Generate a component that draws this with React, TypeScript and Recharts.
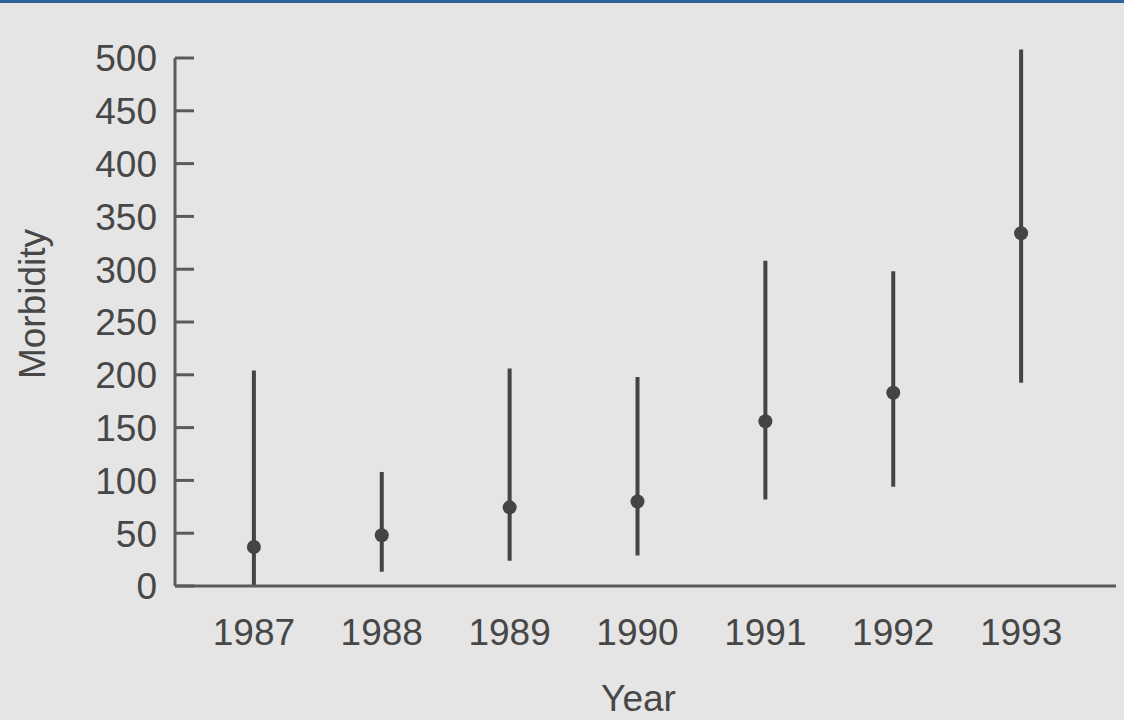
import React from 'react';
import { ComposedChart, Scatter, ErrorBar, XAxis, YAxis } from 'recharts';

const years = [1987, 1988, 1989, 1990, 1991, 1992, 1993];
const meanValues = [37, 48, 74.5, 80, 156, 183, 334];
const lowValues = [0, 13.5, 24, 29, 82, 94, 192.5];
const highValues = [204, 108, 206, 198, 308, 298, 508];
const yTicks = [0, 50, 100, 150, 200, 250, 300, 350, 400, 450, 500];

const data = years.map((year, i) => ({
  year,
  value: meanValues[i],
  err: [meanValues[i] - lowValues[i], highValues[i] - meanValues[i]],
}));

const TEXT = '#474747';
const AXIS = '#5a5a5a';
const FONT = '"Liberation Sans", Arial, Helvetica, sans-serif';
const FS = 37;

const YTick = (props: any) => {
  const { x, y, payload } = props;
  return (
    <g>
      <line x1={x + 18} x2={x + 37} y1={y} y2={y} stroke={AXIS} strokeWidth={3} />
      <text x={x} y={y} dy="0.36em" textAnchor="end" fill={TEXT} fontSize={FS} fontFamily={FONT}>
        {payload.value}
      </text>
    </g>
  );
};

const XTick = (props: any) => {
  const { x, y, payload } = props;
  return (
    <text x={x} y={y} dy="0.71em" textAnchor="middle" fill={TEXT} fontSize={FS} fontFamily={FONT}>
      {payload.value}
    </text>
  );
};

const XLabel = (props: any) => {
  const vb = props.viewBox || {};
  const cx = (vb.x || 0) + vb.width / 2 - 7;
  const by = (vb.y || 0) + vb.height - 9;
  return (
    <text x={cx} y={by} textAnchor="middle" fill={TEXT} fontSize={FS} fontFamily={FONT}>
      Year
    </text>
  );
};

const YLabel = (props: any) => {
  const vb = props.viewBox || {};
  const cx = (vb.x || 0) + 45;
  const cy = (vb.y || 0) + vb.height / 2 - 18;
  return (
    <text
      x={cx}
      y={cy}
      transform={`rotate(-90, ${cx}, ${cy})`}
      textAnchor="middle"
      fill={TEXT}
      fontSize={FS}
      fontFamily={FONT}
    >
      Morbidity
    </text>
  );
};

const Dot = (props: any) => <circle cx={props.cx} cy={props.cy} r={7} fill="#444" />;

export default function App() {
  return (
    <div style={{ position: 'absolute', left: 0, top: 0, width: 1124, height: 720, background: '#e5e5e5', overflow: 'hidden' }}>
      <div style={{ position: 'absolute', left: 0, top: 0, width: 1124, height: 3, background: '#2f6399' }} />
      <ComposedChart width={1124} height={720} data={data} margin={{ top: 58, right: 8, bottom: 0, left: 0 }}>
        <XAxis
          dataKey="year"
          type="number"
          domain={[1986.383, 1993.742]}
          ticks={years}
          allowDataOverflow
          height={134}
          axisLine={{ stroke: AXIS, strokeWidth: 3 }}
          tickLine={false}
          tickSize={0}
          tickMargin={33}
          tick={<XTick />}
          label={<XLabel />}
        />
        <YAxis
          dataKey="value"
          type="number"
          domain={[0, 500]}
          ticks={yTicks}
          allowDataOverflow
          width={175}
          axisLine={{ stroke: AXIS, strokeWidth: 3 }}
          tickLine={false}
          tickSize={0}
          tickMargin={18}
          tick={<YTick />}
          label={<YLabel />}
        />
        <Scatter dataKey="value" isAnimationActive={false} shape={<Dot />}>
          <ErrorBar dataKey="err" direction="y" width={0} stroke="#444" strokeWidth={4} isAnimationActive={false} />
        </Scatter>
      </ComposedChart>
    </div>
  );
}
